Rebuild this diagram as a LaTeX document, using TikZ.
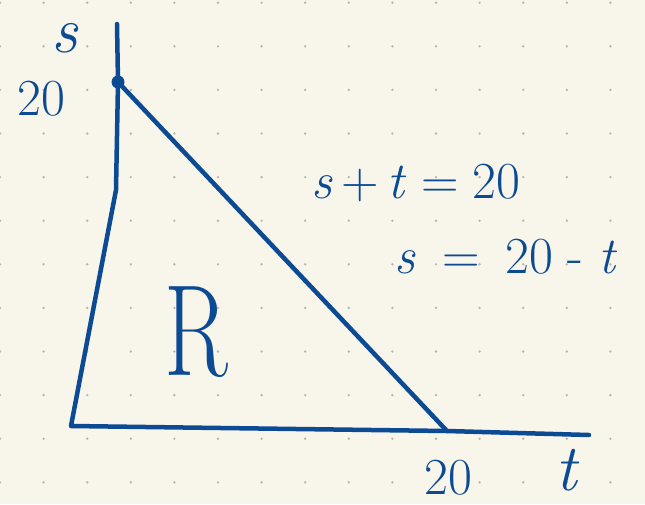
\documentclass[tikz,border=0pt]{standalone}
\usepackage{tikz}
\usetikzlibrary{positioning}
\definecolor{paper}{RGB}{248,246,235}
\definecolor{ink}{RGB}{12,74,148}
\definecolor{griddot}{RGB}{182,180,172}
\newcommand{\var}[1]{\textit{#1}}
\begin{document}
\begin{tikzpicture}[
  x=1pt, y=-1pt,
  pen/.style={draw=ink, line width=4.5pt, line cap=round, line join=round},
  lbl/.style={text=ink, inner sep=0pt, font=\fontsize{52}{60}\selectfont},
  big/.style={lbl, font=\fontsize{66}{76}\selectfont},
  pt/.style={circle, fill=ink, inner sep=0pt, minimum size=13pt}
]
\fill[paper] (0,0) rectangle (645,504);
\useasboundingbox (0,0) rectangle (645,504);
\foreach \i in {0,...,14}
  \foreach \j in {0,...,11}
    \fill[griddot] (43.6*\i, 2.7+43.6*\j) circle (1.3pt);
\coordinate (stop)   at (117,24);
\node[pt] (dot) at (118,82) {};
\coordinate (knee)   at (116,190);
\coordinate (corner) at (71,426);
\coordinate (t20)    at (447,431);
\coordinate (tend)   at (589,435);
\draw[pen] (stop) -- (dot.center) -- (knee) -- (corner) -- (t20) -- (tend);
\draw[pen] (dot.center) -- (t20);
\node[big] (slbl)   at (65,38)   {\var{s}};
\node[lbl] (s20)    at (41,99)   {20};
\node[lbl] (eqsum)  at (416,183) {\var{s}\,+\,\var{t}\;=\;20};
\node[lbl] (eqs)    at (506,257) {\var{s}\enspace=\enspace20\;-\;\var{t}};
\node[lbl, font=\fontsize{130}{140}\selectfont, xscale=0.72] (reg) at (196,332) {R};
\node[lbl] (t20lbl) at (448,478) {20};
\node[big] (tlbl)   at (568,470) {\var{t}};
\end{tikzpicture}
\end{document}
